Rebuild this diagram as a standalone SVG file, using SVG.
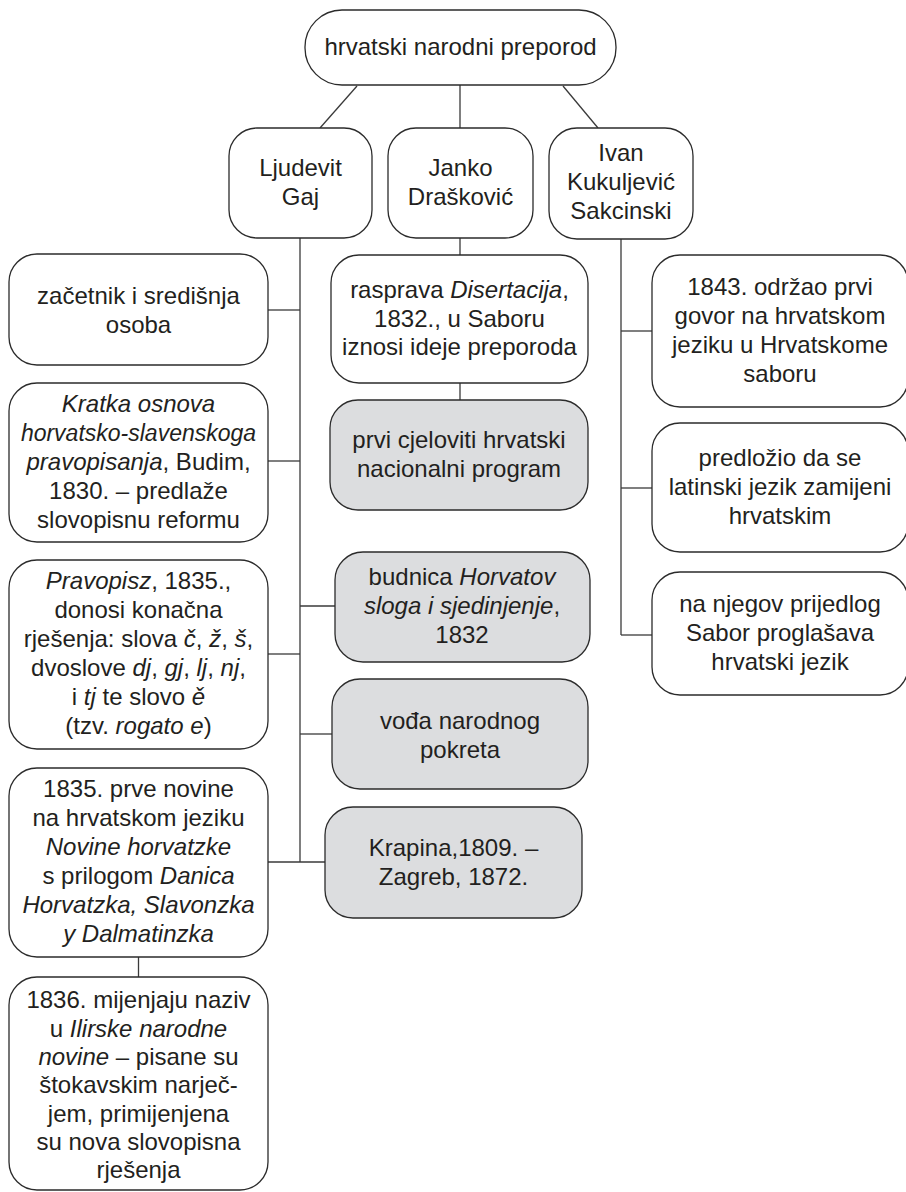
<svg xmlns="http://www.w3.org/2000/svg" width="906" height="1192" viewBox="0 0 906 1192">
<style>
.b{fill:#ffffff;stroke:#2b2b2b;stroke-width:1.3}
.g{fill:#dcdddf;stroke:#2b2b2b;stroke-width:1.3}
.c{stroke:#3a3a3a;stroke-width:1.3;fill:none}
text{font-family:"Liberation Sans",Arial,sans-serif;font-size:24px;fill:#231f20;text-anchor:middle}
.i{font-style:italic}
.n{font-size:23px}
</style>
<rect width="906" height="1192" fill="#ffffff"/>
<g id="connectors">
<line class="c" x1="357" y1="86" x2="320" y2="128"/>
<line class="c" x1="460" y1="85" x2="460" y2="128"/>
<line class="c" x1="563" y1="86" x2="598" y2="128"/>
<line class="c" x1="300" y1="238" x2="300" y2="862"/>
<line class="c" x1="268" y1="310" x2="300" y2="310"/>
<line class="c" x1="268" y1="461" x2="300" y2="461"/>
<line class="c" x1="268" y1="654" x2="300" y2="654"/>
<line class="c" x1="268" y1="862" x2="325" y2="862"/>
<line class="c" x1="300" y1="606" x2="335" y2="606"/>
<line class="c" x1="300" y1="734" x2="332" y2="734"/>
<line class="c" x1="460" y1="238" x2="460" y2="255"/>
<line class="c" x1="460" y1="383" x2="460" y2="400"/>
<line class="c" x1="621" y1="239" x2="621" y2="635"/>
<line class="c" x1="621" y1="331" x2="652" y2="331"/>
<line class="c" x1="621" y1="488" x2="652" y2="488"/>
<line class="c" x1="621" y1="635" x2="652" y2="635"/>
<line class="c" x1="138.5" y1="957" x2="138.5" y2="977"/>
</g>
<g id="root">
<rect class="b" x="305" y="10" width="311" height="75" rx="37"/>
<text x="460.5" y="55">hrvatski narodni preporod</text>
</g>
<g id="gaj">
<rect class="b" x="229" y="128" width="143" height="110" rx="28"/>
<text x="300.5" y="175.5">Ljudevit</text>
<text x="300.5" y="204.5">Gaj</text>
</g>
<g id="draskovic">
<rect class="b" x="388" y="128" width="145" height="110" rx="28"/>
<text x="460.5" y="175.5">Janko</text>
<text x="460.5" y="204.5">Drašković</text>
</g>
<g id="kukuljevic">
<rect class="b" x="549" y="128" width="144" height="111" rx="28"/>
<text x="621" y="161">Ivan</text>
<text x="621" y="190">Kukuljević</text>
<text x="621" y="219">Sakcinski</text>
</g>
<g id="zacetnik">
<rect class="b" x="9" y="254" width="259" height="111" rx="28"/>
<text x="138.5" y="303.5">začetnik i središnja</text>
<text x="138.5" y="332.5">osoba</text>
</g>
<g id="kratka">
<rect class="b" x="9" y="383" width="259" height="159" rx="28"/>
<text x="138.5" y="411.5" class="i">Kratka osnova</text>
<text x="138.5" y="440.5" class="i n">horvatsko-slavenskoga</text>
<text x="138.5" y="469.5"><tspan class="i">pravopisanja</tspan>, Budim,</text>
<text x="138.5" y="498.5">1830. – predlaže</text>
<text x="138.5" y="527.5">slovopisnu reformu</text>
</g>
<g id="pravopisz">
<rect class="b" x="9" y="560" width="259" height="189" rx="28"/>
<text x="138.5" y="589"><tspan class="i">Pravopisz</tspan>, 1835.,</text>
<text x="138.5" y="618">donosi konačna</text>
<text x="138.5" y="647">rješenja: slova <tspan class="i">č</tspan>, <tspan class="i">ž</tspan>, <tspan class="i">š</tspan>,</text>
<text x="138.5" y="676">dvoslove <tspan class="i">dj</tspan>, <tspan class="i">gj</tspan>, <tspan class="i">lj</tspan>, <tspan class="i">nj</tspan>,</text>
<text x="138.5" y="705">i <tspan class="i">tj</tspan> te slovo <tspan class="i">ě</tspan></text>
<text x="138.5" y="734">(tzv. <tspan class="i">rogato e</tspan>)</text>
</g>
<g id="novine">
<rect class="b" x="9" y="768" width="259" height="189" rx="28"/>
<text x="138.5" y="797">1835. prve novine</text>
<text x="138.5" y="826">na hrvatskom jeziku</text>
<text x="138.5" y="855" class="i">Novine horvatzke</text>
<text x="138.5" y="884">s prilogom <tspan class="i">Danica</tspan></text>
<text x="138.5" y="913" class="i">Horvatzka, Slavonzka</text>
<text x="138.5" y="942" class="i">y Dalmatinzka</text>
</g>
<g id="ilirske">
<rect class="b" x="9" y="977" width="259" height="213" rx="28"/>
<text x="138.5" y="1008">1836. mijenjaju naziv</text>
<text x="138.5" y="1037">u <tspan class="i">Ilirske narodne</tspan></text>
<text x="138.5" y="1065"><tspan class="i">novine</tspan> – pisane su</text>
<text x="138.5" y="1093">štokavskim narječ-</text>
<text x="138.5" y="1122">jem, primijenjena</text>
<text x="138.5" y="1150">su nova slovopisna</text>
<text x="138.5" y="1178">rješenja</text>
</g>
<g id="disertacija">
<rect class="b" x="331" y="255" width="257" height="128" rx="28"/>
<text x="459.5" y="298">rasprava <tspan class="i">Disertacija</tspan>,</text>
<text x="459.5" y="327">1832., u Saboru</text>
<text x="459.5" y="355">iznosi ideje preporoda</text>
</g>
<g id="program">
<rect class="g" x="330" y="400" width="258" height="110" rx="28"/>
<text x="459" y="448">prvi cjeloviti hrvatski</text>
<text x="459" y="477">nacionalni program</text>
</g>
<g id="budnica">
<rect class="g" x="335" y="552" width="255" height="110" rx="28"/>
<text x="462" y="585">budnica <tspan class="i">Horvatov</tspan></text>
<text x="462" y="614"><tspan class="i">sloga i sjedinjenje</tspan>,</text>
<text x="462" y="643">1832</text>
</g>
<g id="voda">
<rect class="g" x="332" y="679" width="256" height="110" rx="28"/>
<text x="460" y="729">vođa narodnog</text>
<text x="460" y="758">pokreta</text>
</g>
<g id="krapina">
<rect class="g" x="325" y="807" width="257" height="111" rx="28"/>
<text x="453.5" y="856">Krapina,1809. –</text>
<text x="453.5" y="885">Zagreb, 1872.</text>
</g>
<g id="govor">
<rect class="b" x="652" y="255" width="256" height="152" rx="28"/>
<text x="780" y="295">1843. održao prvi</text>
<text x="780" y="324">govor na hrvatskom</text>
<text x="780" y="353">jeziku u Hrvatskome</text>
<text x="780" y="382">saboru</text>
</g>
<g id="latinski">
<rect class="b" x="652" y="423" width="256" height="129" rx="28"/>
<text x="780" y="466">predložio da se</text>
<text x="780" y="495">latinski jezik zamijeni</text>
<text x="780" y="524">hrvatskim</text>
</g>
<g id="prijedlog">
<rect class="b" x="652" y="572" width="256" height="123" rx="28"/>
<text x="780" y="612">na njegov prijedlog</text>
<text x="780" y="641">Sabor proglašava</text>
<text x="780" y="670">hrvatski jezik</text>
</g>
</svg>
